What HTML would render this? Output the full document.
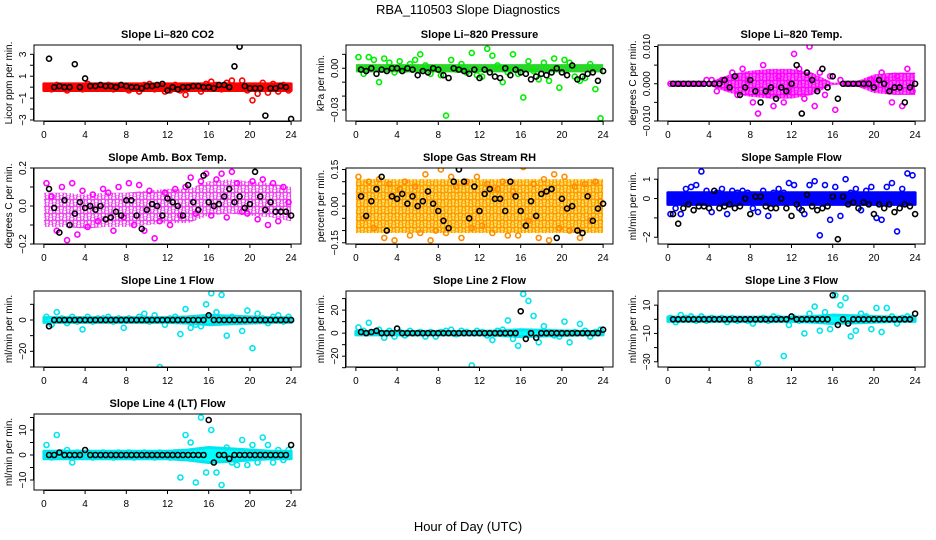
<!DOCTYPE html>
<html><head><meta charset="utf-8">
<style>
html,body{margin:0;padding:0;background:#fff;}
svg{display:block;font-family:"Liberation Sans",Arial,sans-serif;}
</style></head>
<body>
<svg id="chart" width="936" height="540" viewBox="0 0 936 540">
<text x="468" y="14" text-anchor="middle" font-size="13">RBA_110503  Slope Diagnostics</text>
<text x="468" y="531" text-anchor="middle" font-size="13">Hour of Day (UTC)</text>
</svg>
<script>
// ---- shared data ----
const blackHours = [0.5,1,1.5,2,2.5,3,3.5,4,4.5,5,5.5,6,6.5,7,7.5,8,8.5,9,9.5,10,10.5,11,11.5,12,12.5,13,13.5,14,14.5,15,15.5,16,16.5,17,17.5,18,18.5,19,19.5,20,20.5,21,21.5,22,22.5,23,23.5,24];
const colorHours = [0.25,0.75,1.25,1.75,2.25,2.75,3.25,3.75,4.25,4.75,5.25,5.75,6.25,6.75,7.25,7.75,8.25,8.75,9.25,9.75,10.25,10.75,11.25,11.75,12.25,12.75,13.25,13.75,14.25,14.75,15.25,15.75,16.25,16.75,17.25,17.75,18.25,18.75,19.25,19.75,20.25,20.75,21.25,21.75,22.25,22.75,23.25,23.75];
const bandHours = [0,2,4,6,8,10,12,14,16,18,20,22,24];
const xTicks = [0,4,8,12,16,20,24];

// CO2
const co2Black = [2.6,0,0.1,0,0,2.1,0,0.8,0.1,0.1,0.2,0.1,0.1,0,0.2,0.1,0,0,-0.1,0.1,0.1,0.2,0.3,-0.3,0,-0.2,0,0,0.1,0.1,0,0,-0.1,0.2,0.2,0,1.9,3.7,0.1,-0.1,-0.1,-0.1,-2.6,-0.1,-0.1,0.1,0,-2.9];
const co2Color = [0.1,-0.2,0.2,0,-0.3,0.1,0,-0.2,0.3,0.1,-0.1,0,0.2,-0.2,0.1,0,-0.3,0.1,-0.4,0.2,0.3,-0.2,0,-0.4,-0.3,0.2,-0.3,-0.7,0.1,-0.1,-0.4,0.3,0.5,0.2,-0.2,0.4,0.6,-0.1,0.6,-0.3,-1.2,-0.6,0.4,-0.5,0.3,-0.4,0.2,-0.3];
const co2BandCenter = [0,0,0,0,0,0,0,0,0,0,0,0,0];
const co2BandHalf = [0.3,0.3,0.3,0.3,0.3,0.3,0.3,0.3,0.3,0.3,0.3,0.3,0.3];
// Pressure (x0.001 kPa)
const presBlack = [-1,-2,0,-4,-1,-2,0,0,-2,0,-1,-5,-2,-3,0,-1,-5,-7,0,-1,-2,-4,-1,-7,-1,-3,-6,-7,0,-5,-1,-3,-4,-8,-6,-4,-5,-3,0,-3,-5,2,-8,-6,-4,-3,-9,-2];
const presColor = [8,-4,8,6,-10,7,4,-3,5,-1,3,6,10,2,-4,0,-5,-34,6,-1,3,-3,11,-5,-6,14,9,2,-10,-3,10,-4,-21,5,-2,-8,4,-9,7,-14,6,4,-6,-9,-7,3,-15,-36];
const presBandCenter = [0,0,0,0,0,0,0,0,0,0,0,0,0];
const presBandHalf = [3,3,3,3,3,3,3,3,3,3,3,3,3];
// Li-820 Temp (x0.001)
const tempBlack = [0,0,0,0,0,0,0,0,0,0,1,-1,2,-3,-1,1,-2,-5,-2,-1,-4,-1,-2,0,5,-8,3,1,-2,4,-1,2,-4,0,0,0,0,0,0,-1,1,0,-2,-1,-1,-5,-1,0];
const tempColor = [0,0,0,0,0,0,0,1,1,-2,1,-1,3,-3,4,1,-5,-8,5,-3,-6,2,-5,-2,8,4,-4,10,-6,3,-3,2,-7,1,0,0,0,0,0,1,0,3,1,-5,2,-6,4,-2];
const tempBandCenter = [0,0,0,0,0,0,0,0,0,0,0,0,0];
const tempBandHalf = [0.3,0.3,0.5,2.5,3.5,4,4,3,0.3,0.3,2.5,3,3];
// Amb box temp
const ambBlack = [0.09,-0.01,-0.14,0.03,-0.1,-0.04,0.02,-0.01,0,-0.02,0,-0.07,-0.06,-0.03,-0.05,0.03,0.03,-0.05,-0.12,-0.02,0.01,0,-0.05,0.04,0.02,0,-0.05,0.11,0.02,-0.02,0.16,0.02,0,0.01,0.05,0.09,0.02,0.05,-0.01,0.01,0.18,0.05,-0.02,0.02,-0.03,-0.03,-0.03,-0.05];
const ambColor = [0.12,0.05,-0.13,0.1,-0.18,0.12,-0.15,0.08,-0.11,0.06,-0.08,0.09,0.07,-0.13,0.1,-0.06,0.12,-0.1,0.11,-0.13,0.08,-0.17,-0.08,0.07,-0.1,0.09,-0.05,0.1,0.15,-0.04,0.13,0.17,-0.05,0.14,0.17,-0.06,0.18,0.12,-0.03,-0.04,0.13,-0.07,0.14,-0.1,0.12,-0.08,0.1,0.02];
const ambBandCenter = [-0.02,-0.02,-0.03,-0.02,-0.02,-0.01,0,0,0.04,0.05,0.04,0.03,0.01];
const ambBandHalf = [0.09,0.09,0.09,0.09,0.09,0.09,0.09,0.09,0.09,0.09,0.09,0.09,0.09];
// Gas stream RH
const rhBlack = [0.04,-0.04,0.02,0.07,0.12,-0.1,0.04,0.03,0.05,0.01,0.04,0,0.02,0.06,0.01,-0.02,-0.06,-0.09,0.1,0.15,0.1,-0.05,0.08,-0.02,0.05,0.07,0.03,0.03,-0.02,0.1,0.04,-0.02,-0.08,0.02,-0.04,0.05,0.06,0.07,-0.13,0.03,-0.01,0,-0.1,-0.11,0.04,-0.06,-0.01,0.01];
const rhColor = [0.12,-0.05,0.1,-0.09,0.11,-0.13,0.09,-0.14,0.07,0.1,-0.12,0.08,-0.11,0.13,-0.14,-0.1,0.15,-0.11,0.12,0.08,-0.13,0.1,-0.09,0.12,-0.08,0.09,-0.11,0.07,0.1,-0.12,0.06,-0.12,0.16,-0.06,0.09,-0.13,0.11,-0.14,0.13,-0.09,0.12,-0.1,0.08,-0.13,0.09,-0.06,0.1,0.02];
const rhBandCenter = [0,0,0,0,0,0,0,0,0,0,0,0,0];
const rhBandHalf = [0.11,0.11,0.11,0.11,0.11,0.11,0.11,0.11,0.11,0.11,0.11,0.11,0.11];
// Sample flow
const sfBlack = [-0.8,-1.3,-0.5,-0.3,-0.6,-0.4,-0.4,-0.5,0.4,-0.5,-0.4,-0.3,-0.5,-0.4,0,-0.8,0.1,0.1,-0.4,-0.5,-0.5,0,-0.5,-0.9,-0.3,-0.6,0.2,-0.4,-0.6,-0.5,-0.4,0.1,-2.1,0.1,-0.3,-0.2,-0.5,-0.2,-0.3,-0.8,-0.3,-0.5,-0.3,-0.7,-0.5,-0.3,-0.4,-0.8];
const sfColor = [-0.8,-0.5,-0.8,0.5,0.6,0.7,1.4,0.4,-0.7,0.3,0.5,-0.8,0.4,0.3,0.4,0.3,-0.5,-0.7,0.4,-0.9,0.3,0.5,0.3,0.8,0.7,-0.5,-0.8,0.7,0.9,-1.9,0.7,-1.1,0.6,-0.9,1,0.3,0.5,-0.6,0.4,0.6,-1,-1.1,0.6,0.8,-1.7,0.5,1.3,1.2];
const sfBandCenter = [0,0,0,0,0,0,0,0,0,0,0,0,0];
const sfBandHalf = [0.3,0.3,0.3,0.3,0.3,0.3,0.3,0.3,0.3,0.3,0.3,0.3,0.3];
// Line flows
const l1Black = [-4,0,0,0,0,0,0,0,0,0,0,0,0,0,0,0,0,0,0,0,0,0,0,0,0,0,0,0,0,0,0,3,0,0,0,0,0,0,0,0,0,0,0,0,0,0,0,0];
const l1Color = [2,-3,5,1,-2,2,-1,-6,2,-1,1,1,2,-1,1,-5,1,0,2,4,-1,3,-30,-3,1,2,-9,7,-5,-3,-4,10,17,5,16,-10,2,1,-7,6,-18,4,1,-2,2,3,-1,2];
const l2Black = [1,0,1,2,0,0,0,4,0,0,0,0,0,0,0,0,0,0,0,0,0,0,0,0,0,0,0,0,0,0,0,19,-5,0,-4,0,0,0,0,0,0,0,0,0,0,0,0,3];
const l2Color = [5,2,9,1,3,-4,2,-3,1,-2,2,0,1,-3,1,-3,1,2,3,-1,2,1,-28,2,1,-2,-6,2,3,11,-5,-11,34,28,15,-8,6,1,-2,-3,10,-8,1,8,2,-3,1,3];
const l3Black = [0,0,0,0,0,0,0,0,0,0,0,0,0,0,0,0,0,0,0,0,0,0,0,2,0,0,0,0,0,0,0,17,-4,0,-3,0,0,0,0,0,0,0,0,0,0,0,0,4];
const l3Color = [1,-2,3,1,2,-1,2,-1,1,0,1,-2,1,-1,0,-1,-3,-31,1,-1,2,1,-26,-4,1,-1,-10,4,9,-8,5,-7,17,10,15,-12,-8,4,2,-7,8,-9,8,2,-3,1,2,1];
const l4Black = [0,0,1,0,0,0,0,2,0,0,0,0,0,0,0,0,0,0,0,0,0,0,0,0,0,0,0,0,0,0,0,14,-3,0,0,-1.5,0,0,0,0,0,0,0,0,0,0,0,4];
const l4Color = [4,-1,8,1,2,-3,1,0,1,-1,0,1,0,-1,1,0,1,-1,0,1,0,-1,1,0,-1,1,-9,8,5,-11,15,-7,10,-7,-12,3,-3,-4,6,-4,4,-3,7,4,-3,2,-2,2];
const lineBandCenter = [0,0,0,0,0,0,0,0,0,0,0,0,0];
const lineBandHalf = [1.5,1.5,1.5,1.5,1.5,1.5,1.5,2,3,2.5,2,1.5,1.5];

const panels = [
 {name:'co2',col:0,row:0,title:'Slope Li\u2013820 CO2',yl:'Licor ppm per min.',dom:[-3.09,3.85],ticks:[-3,-2,-1,0,1,2,3],labs:{'-3':'\u22123','-1':'\u22121','1':'1','3':'3'},color:'#ff0000',band:'#ff0000',k:co2Black,c:co2Color,bc:co2BandCenter,bh:co2BandHalf},
 {name:'pressure',col:1,row:0,title:'Slope Li\u2013820 Pressure',yl:'kPa per min.',dom:[-37.9,16.7],ticks:[-30,-20,-10,0,10],labs:{'0':'0.00','-30':'\u22120.03'},color:'#00ee00',band:'#22dd22',pat:true,patBg:'#33cc33',k:presBlack,c:presColor,bc:presBandCenter,bh:presBandHalf},
 {name:'li820-temp',col:2,row:0,title:'Slope Li\u2013820 Temp.',yl:'degrees C per min.',dom:[-10,10.4],ticks:[-10,-5,0,5,10],labs:{'10':'0.010','0':'0.000','-10':'\u22120.010'},color:'#ff00ff',band:'#ff00ff',pat:true,patBg:'#ff66ff',k:tempBlack,c:tempColor,bc:tempBandCenter,bh:tempBandHalf},
 {name:'amb-box-temp',col:0,row:1,title:'Slope Amb. Box Temp.',yl:'degrees C per min.',dom:[-0.2,0.2],ticks:[-0.2,-0.1,0,0.1,0.2],labs:{'0.2':'0.2','0':'0.0','-0.2':'\u22120.2'},color:'#ff00ff',band:'#f040f0',pat:true,patBg:'#ffffff',k:ambBlack,c:ambColor,bc:ambBandCenter,bh:ambBandHalf},
 {name:'gas-stream-rh',col:1,row:1,title:'Slope Gas Stream RH',yl:'percent per min.',dom:[-0.155,0.156],ticks:[-0.15,-0.1,-0.05,0,0.05,0.1,0.15],labs:{'0.15':'0.15','0':'0.00','-0.15':'\u22120.15'},color:'#ff8c00',band:'#ff9900',pat:true,patBg:'#ffe060',k:rhBlack,c:rhColor,bc:rhBandCenter,bh:rhBandHalf},
 {name:'sample-flow',col:2,row:1,title:'Slope Sample Flow',yl:'ml/min per min.',dom:[-2.35,1.58],ticks:[-2,-1,0,1],labs:{'1':'1','0':'0','-2':'\u22122'},color:'#0000ff',band:'#0000ff',k:sfBlack,c:sfColor,bc:sfBandCenter,bh:sfBandHalf},
 {name:'line1-flow',col:0,row:2,title:'Slope Line 1 Flow',yl:'ml/min per min.',dom:[-30,18.5],ticks:[-30,-20,-10,0,10],labs:{'0':'0','-20':'\u221220'},color:'#00e5ee',band:'#00ffff',k:l1Black,c:l1Color,bc:lineBandCenter,bh:lineBandHalf},
 {name:'line2-flow',col:1,row:2,title:'Slope Line 2 Flow',yl:'ml/min per min.',dom:[-29.4,36.6],ticks:[-30,-20,-10,0,10,20,30],labs:{'20':'20','0':'0','-20':'\u221220'},color:'#00e5ee',band:'#00ffff',k:l2Black,c:l2Color,bc:lineBandCenter,bh:lineBandHalf},
 {name:'line3-flow',col:2,row:2,title:'Slope Line 3 Flow',yl:'ml/min per min.',dom:[-33.7,20],ticks:[-30,-20,-10,0,10],labs:{'10':'10','-10':'\u221210','-30':'\u221230'},color:'#00e5ee',band:'#00ffff',k:l3Black,c:l3Color,bc:lineBandCenter,bh:lineBandHalf},
 {name:'line4-flow',col:0,row:3,title:'Slope Line 4 (LT) Flow',yl:'ml/min per min.',dom:[-14,16.4],ticks:[-10,-5,0,5,10,15],labs:{'10':'10','0':'0','-10':'\u221210'},color:'#00e5ee',band:'#00ffff',k:l4Black,c:l4Color,bc:lineBandCenter,bh:lineBandHalf}
];

const NS='http://www.w3.org/2000/svg';
const svg=document.getElementById('chart');
function mk(tag,attrs,parent){const e=document.createElementNS(NS,tag);for(const a in attrs)e.setAttribute(a,attrs[a]);(parent||svg).appendChild(e);return e;}
const rowTops=[45,168,291,414], colLeft=[34,346,658], W=267, H=76;
const defs=mk('defs',{});

panels.forEach(p=>{
  const L=colLeft[p.col], T=rowTops[p.row];
  const g=mk('g',{});
  
  
  const xs=h=>L+ (h+0.96)/25.92*W;
  const ys=v=>T+H-(v-p.dom[0])/(p.dom[1]-p.dom[0])*H;
  const clip='clip-'+p.name;
  const cp=mk('clipPath',{id:clip},g); mk('rect',{x:L,y:T,width:W,height:H},cp);
  const pg=mk('g',{'clip-path':'url(#'+clip+')'},g);
  let fill=p.band, sw=3;
  if(p.pat){
    const pid='pat-'+p.name;
    const pt=mk('pattern',{id:pid,width:7,height:7,patternUnits:'userSpaceOnUse'},defs);
    mk('rect',{x:0,y:0,width:7,height:7,fill:p.patBg},pt);
    [[1.75,1.75],[5.25,5.25],[8.75,1.75],[-1.75,5.25]].forEach(q=>mk('circle',{cx:q[0],cy:q[1],r:2.1,fill:'none',stroke:p.band,'stroke-width':1.4},pt));
    fill='url(#'+pid+')'; sw=0;
  }
  let top=[],bot=[];
  bandHours.forEach((h,i)=>{top.push(xs(h)+','+ys(p.bc[i]+p.bh[i]));bot.unshift(xs(h)+','+ys(p.bc[i]-p.bh[i]));});
  const band=mk('polygon',{points:top.concat(bot).join(' '),fill:fill,stroke:p.pat?'none':p.color,'stroke-width':sw,'stroke-linejoin':'round'},pg);
  
  
  p.c.forEach((v,i)=>{
    if(i>=colorHours.length)return;
    const c=mk('circle',{cx:xs(colorHours[i]),cy:ys(v),r:2.5,fill:'none',stroke:p.color,'stroke-width':1.6},pg);
    
    
  });
  p.k.forEach((v,i)=>{
    if(i>=blackHours.length)return;
    const c=mk('circle',{cx:xs(blackHours[i]),cy:ys(v),r:2.5,fill:'none',stroke:'#000','stroke-width':1.6},pg);
    
    
  });
  mk('rect',{x:L,y:T,width:W,height:H,fill:'none',stroke:'#000','stroke-width':1},g);
  const t=mk('text',{x:L+W/2,y:T-7,'text-anchor':'middle','font-size':11,'font-weight':'bold'},g);
  t.textContent=p.title;
  
  
  mk('line',{x1:xs(0),x2:xs(24),y1:T+H+0.5,y2:T+H+0.5,stroke:'#000'},g);
  xTicks.forEach(h=>{
    mk('line',{x1:xs(h),x2:xs(h),y1:T+H,y2:T+H+4,stroke:'#000'},g);
    const tx=mk('text',{x:xs(h),y:T+H+17,'text-anchor':'middle','font-size':10},g);
    tx.textContent=h;
    
    
  });
  const tmin=Math.min(...p.ticks), tmax=Math.max(...p.ticks);
  mk('line',{x1:L-0.5,x2:L-0.5,y1:ys(tmin),y2:ys(tmax),stroke:'#000'},g);
  p.ticks.forEach(v=>{
    mk('line',{x1:L-4,x2:L,y1:ys(v),y2:ys(v),stroke:'#000'},g);
    const lab=p.labs[String(v)];
    if(lab!==undefined){
      const ty=mk('text',{x:L-8,y:ys(v),'text-anchor':'middle','font-size':10,transform:'rotate(-90 '+(L-8)+' '+ys(v)+')'},g);
      ty.textContent=lab;
      
      
    }
  });
  const yt=mk('text',{x:L-22,y:T+H/2,'text-anchor':'middle','font-size':10,transform:'rotate(-90 '+(L-22)+' '+(T+H/2)+')'},g);
  yt.textContent=p.yl;
  
  
});
</script>
</body></html>
